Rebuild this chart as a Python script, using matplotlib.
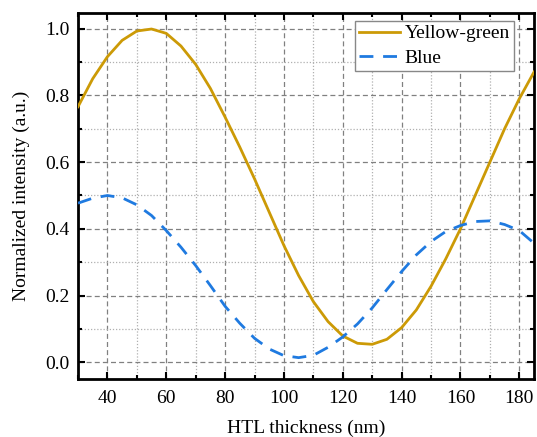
import matplotlib
matplotlib.use("Agg")
import matplotlib.pyplot as plt
from matplotlib.ticker import MultipleLocator

plt.rcParams['font.family'] = ['Liberation Serif', 'DejaVu Serif']
plt.rcParams['mathtext.fontset'] = 'stix'

thickness = [30, 35, 40, 45, 50, 55, 60, 65, 70, 75, 80, 85, 90, 95, 100, 105,
             110, 115, 120, 125, 130, 135, 140, 145, 150, 155, 160, 165, 170,
             175, 180, 185]
yellow_green = [0.766, 0.850, 0.916, 0.965, 0.993, 0.999, 0.986, 0.948, 0.893,
                0.821, 0.735, 0.645, 0.550, 0.450, 0.350, 0.260, 0.182, 0.122,
                0.079, 0.057, 0.054, 0.069, 0.104, 0.157, 0.228, 0.310, 0.400,
                0.500, 0.600, 0.700, 0.790, 0.870]
blue = [0.477, 0.492, 0.500, 0.493, 0.472, 0.440, 0.395, 0.345, 0.290, 0.230,
        0.168, 0.117, 0.072, 0.040, 0.020, 0.014, 0.021, 0.045, 0.076, 0.115,
        0.163, 0.218, 0.272, 0.322, 0.362, 0.392, 0.410, 0.422, 0.424, 0.413,
        0.395, 0.357]

fig = plt.figure(figsize=(5.37, 4.37), dpi=100)
ax = fig.add_axes([78/537, 1 - 379/437, (534-78)/537, (379-13)/437])

ax.plot(thickness, yellow_green, color='#CC9A06', lw=2.0, label='Yellow-green', zorder=3)
ax.plot(thickness, blue, color='#1F7AE0', lw=2.0, dashes=(5, 3.5), label='Blue', zorder=3)

ax.set_xlim(30, 185)
ax.set_ylim(-0.05, 1.047)
ax.xaxis.set_major_locator(MultipleLocator(20))
ax.xaxis.set_minor_locator(MultipleLocator(10))
ax.yaxis.set_major_locator(MultipleLocator(0.2))
ax.yaxis.set_minor_locator(MultipleLocator(0.1))
ax.yaxis.set_major_formatter(matplotlib.ticker.FormatStrFormatter('%.1f'))

ax.grid(which='major', color='#808080', linestyle=(0, (4, 2.5)), linewidth=0.9)
ax.grid(which='minor', color='#b0b0b0', linestyle=(0, (1, 1.5)), linewidth=0.9)

ax.tick_params(which='both', direction='in', top=True, right=True, width=1.5)
ax.tick_params(which='major', length=5, labelsize=14)
ax.tick_params(axis='x', which='major', pad=8)
ax.tick_params(axis='y', which='major', pad=6)
ax.tick_params(which='minor', length=3)
for s in ax.spines.values():
    s.set_linewidth(2.0)

ax.set_xlabel('HTL thickness (nm)', fontsize=14, labelpad=9)
ax.set_ylabel('Normalized intensity (a.u.)', fontsize=14, labelpad=11)

leg = ax.legend(loc='upper right', bbox_to_anchor=(514/537, 1 - 21/437),
                bbox_transform=fig.transFigure,
                fontsize=14, fancybox=False, framealpha=1,
                edgecolor='#888888', handlelength=2.1, borderpad=0.2,
                labelspacing=0.35, handletextpad=0.25, borderaxespad=0.0)
leg.get_frame().set_linewidth(1.0)

fig.savefig('out.png', dpi=100)
